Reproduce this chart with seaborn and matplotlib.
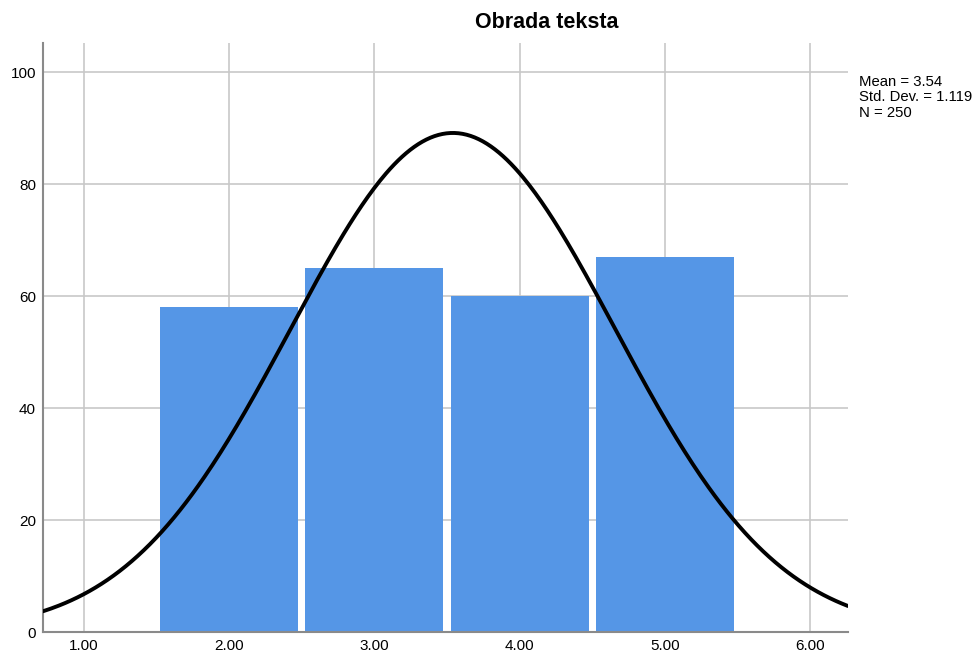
import numpy as np
import pandas as pd
import seaborn as sns
import matplotlib.pyplot as plt

# histogram of "Obrada teksta"
values = [2, 3, 4, 5]
counts = [58, 65, 60, 67]
mean_val = 3.54
std_val = 1.119
n_total = 250
x_ticks = [1, 2, 3, 4, 5, 6]
x_tick_labels = ['1.00', '2.00', '3.00', '4.00', '5.00', '6.00']
y_ticks = [0, 20, 40, 60, 80, 100]

sns.set_style('white')
plt.rcParams['font.family'] = ['Liberation Sans', 'DejaVu Sans']
plt.rcParams['text.color'] = 'black'

fig = plt.figure(figsize=(9.78, 6.58), dpi=100)
ax = fig.add_axes([0.044, 0.0395, 0.823, 0.8952])

df = pd.DataFrame({'value': values, 'count': counts})
sns.histplot(data=df, x='value', weights='count', discrete=True, shrink=0.95, ax=ax,
             color='#5596e6', alpha=1, linewidth=0, zorder=2)

# fitted normal curve from the stated mean / sd / N (bin width 1)
xlo, xhi = 0.718, 6.26
xs = np.linspace(xlo, xhi, 400)
ys = n_total * 1.0 / (std_val * np.sqrt(2 * np.pi)) * np.exp(-0.5 * ((xs - mean_val) / std_val) ** 2)
sns.lineplot(x=xs, y=ys, ax=ax, color='black', linewidth=2.8, zorder=3)

ax.set_xlim(xlo, xhi)
ax.set_ylim(0, 105.2)
ax.set_xticks(x_ticks)
ax.set_xticklabels(x_tick_labels)
ax.set_yticks(y_ticks)
ax.grid(True, color='#c8c8c8', linewidth=1.2, zorder=0)
ax.set_axisbelow(True)
ax.tick_params(length=0, labelsize=11, colors='black', pad=5)
ax.set_xlabel('')
ax.set_ylabel('')
for side in ['top', 'right']:
    ax.spines[side].set_visible(False)
for side in ['left', 'bottom']:
    ax.spines[side].set_color('#8a8a8a')
    ax.spines[side].set_linewidth(1.5)

fig.text(547 / 978, 1 - 23 / 658, 'Obrada teksta', ha='center', va='center',
         fontsize=15.5, fontweight='bold', color='black')
fig.text(859 / 978, 1 - 75 / 658,
         f'Mean = {mean_val:.2f}\nStd. Dev. = {std_val:.3f}\nN = {n_total}',
         ha='left', va='top', fontsize=10.7, linespacing=1.12, color='black')

fig.savefig('out.png', dpi=100)
